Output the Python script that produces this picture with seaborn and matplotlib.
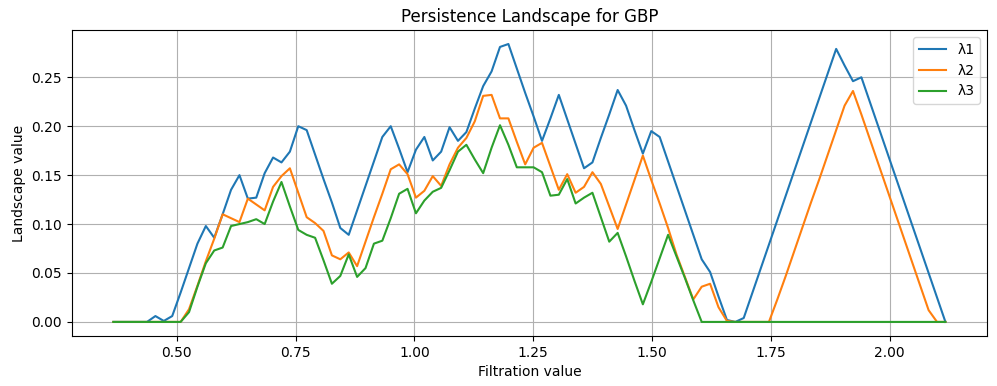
import numpy as np
import pandas as pd
import matplotlib
matplotlib.use("Agg")
import matplotlib.pyplot as plt
import seaborn as sb

# filtration grid: 100 evenly spaced samples
x_start, x_end, n_samples = 0.3669, 2.117, 100

lambda1 = [0, 0, 0, 0, 0, 0.006, 0.001, 0.006, 0.030, 0.055,
           0.080, 0.098, 0.086, 0.110, 0.135, 0.150, 0.126, 0.127, 0.152, 0.168,
           0.163, 0.174, 0.200, 0.196, 0.171, 0.146, 0.122, 0.096, 0.089, 0.114,
           0.139, 0.164, 0.189, 0.200, 0.177, 0.153, 0.176, 0.189, 0.165, 0.174,
           0.199, 0.185, 0.194, 0.218, 0.241, 0.256, 0.281, 0.284, 0.259, 0.234,
           0.210, 0.185, 0.208, 0.232, 0.207, 0.182, 0.157, 0.163, 0.188, 0.212,
           0.237, 0.221, 0.196, 0.172, 0.195, 0.189, 0.164, 0.139, 0.114, 0.089,
           0.064, 0.051, 0.026, 0.002, 0.0, 0.004, 0.029, 0.054, 0.079, 0.104,
           0.129, 0.154, 0.179, 0.204, 0.229, 0.254, 0.279, 0.262, 0.246, 0.250,
           0.225, 0.200, 0.175, 0.150, 0.125, 0.100, 0.075, 0.050, 0.025, 0.0]

lambda2 = [0, 0, 0, 0, 0, 0, 0, 0, 0, 0.013,
           0.037, 0.062, 0.085, 0.110, 0.106, 0.102, 0.126, 0.120, 0.114, 0.138,
           0.149, 0.157, 0.132, 0.107, 0.101, 0.093, 0.068, 0.064, 0.071, 0.057,
           0.082, 0.107, 0.131, 0.156, 0.161, 0.151, 0.127, 0.134, 0.149, 0.139,
           0.161, 0.178, 0.188, 0.205, 0.231, 0.232, 0.208, 0.208, 0.184, 0.161,
           0.178, 0.183, 0.159, 0.135, 0.151, 0.132, 0.138, 0.153, 0.141, 0.118,
           0.095, 0.120, 0.145, 0.170, 0.145, 0.121, 0.096, 0.069, 0.046, 0.023,
           0.036, 0.039, 0.015, 0.001, 0, 0, 0, 0, 0, 0.023,
           0.047, 0.072, 0.097, 0.122, 0.146, 0.171, 0.196, 0.221, 0.236, 0.212,
           0.187, 0.162, 0.137, 0.112, 0.087, 0.062, 0.037, 0.012, 0, 0]

lambda3 = [0, 0, 0, 0, 0, 0, 0, 0, 0, 0.010,
           0.036, 0.060, 0.073, 0.076, 0.098, 0.100, 0.102, 0.105, 0.100, 0.123,
           0.143, 0.118, 0.094, 0.089, 0.086, 0.063, 0.039, 0.047, 0.069, 0.046,
           0.055, 0.080, 0.083, 0.106, 0.131, 0.136, 0.111, 0.124, 0.133, 0.137,
           0.155, 0.174, 0.181, 0.166, 0.152, 0.178, 0.201, 0.181, 0.158, 0.158,
           0.158, 0.153, 0.129, 0.130, 0.146, 0.121, 0.127, 0.132, 0.107, 0.082,
           0.091, 0.067, 0.042, 0.018, 0.041, 0.065, 0.089, 0.067, 0.045, 0.022,
           0, 0, 0, 0, 0, 0, 0, 0, 0, 0,
           0, 0, 0, 0, 0, 0, 0, 0, 0, 0,
           0, 0, 0, 0, 0, 0, 0, 0, 0, 0]

labels = ["λ1", "λ2", "λ3"]

grid = np.linspace(x_start, x_end, n_samples)
df = pd.DataFrame({"x": grid, "λ1": lambda1, "λ2": lambda2, "λ3": lambda3})

fig, ax = plt.subplots(figsize=(9.97, 3.86), dpi=100)
fig.subplots_adjust(left=0.072, right=0.990, top=0.922, bottom=0.130)

for name in labels:
    sb.lineplot(data=df, x="x", y=name, ax=ax, label=name, linewidth=1.5)

ax.set_title("Persistence Landscape for GBP")
ax.set_xlabel("Filtration value")
ax.set_ylabel("Landscape value")
ax.grid(True)
ax.legend(loc="upper right")

fig.savefig("out.png", dpi=100)
